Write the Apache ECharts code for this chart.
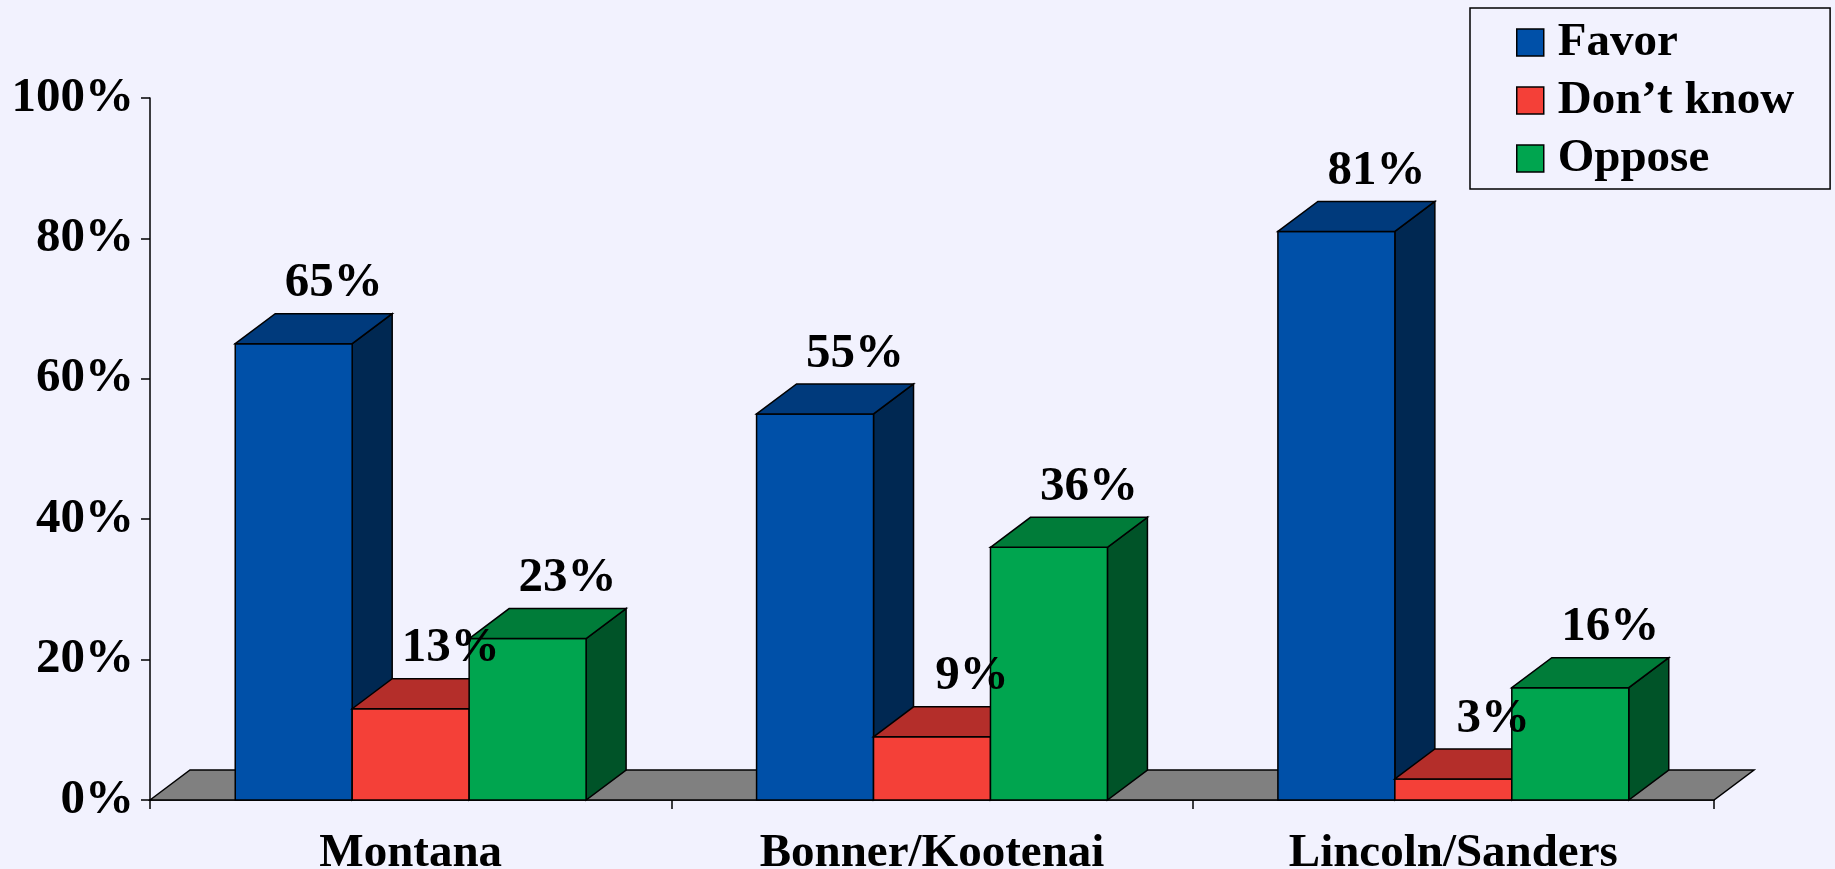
<!DOCTYPE html>
<html>
<head>
<meta charset="utf-8">
<script src="https://cdn.jsdelivr.net/npm/echarts@6/dist/echarts.min.js"></script>
<style>
  html, body { margin: 0; padding: 0; background: #F2F2FE; }
  #chart { width: 1835px; height: 869px; }
</style>
</head>
<body>
<div id="chart"></div>
<script>
// ---- data ----
const categories = ['Montana', 'Bonner/Kootenai', 'Lincoln/Sanders'];
const seriesNames = ['Favor', 'Don\u2019t know', 'Oppose'];
const favor = [65, 55, 81];
const dontKnow = [13, 9, 3];
const oppose = [23, 36, 16];
const yMax = 100;
const yInterval = 20;

// ---- style ----
const FONT = '"Liberation Serif", "Times New Roman", serif';
const DX = 40, DY = 30;          // 3D depth offset
const GROUP = 0.673;             // share of category width used by the 3 bars
const faces = [
  { front: '#0050A8', top: '#003A7C', side: '#002852' },
  { front: '#F44038', top: '#B42E2A', side: '#7A1E1C' },
  { front: '#00A54F', top: '#007C39', side: '#005328' }
];
const valueSets = [favor, dontKnow, oppose];

function barGeom(api, idx, v, k) {
  const base = api.coord([idx, 0]);
  const top = api.coord([idx, v]);
  const catW = api.size([1, 0])[0];
  const bw = catW * GROUP / 3;
  const x0 = base[0] - 1.5 * bw + k * bw;
  return { x0: x0, x1: x0 + bw, bw: bw, yb: base[1], yt: top[1] };
}

function makeBarRender(k) {
  const f = faces[k];
  return function (params, api) {
    const g = barGeom(api, api.value(0), api.value(1), k);
    const st = { stroke: '#000', lineWidth: 1.5 };
    return {
      type: 'group',
      children: [
        { type: 'polygon', shape: { points: [[g.x1, g.yt], [g.x1 + DX, g.yt - DY], [g.x1 + DX, g.yb - DY], [g.x1, g.yb]] },
          style: Object.assign({ fill: f.side }, st) },
        { type: 'rect', shape: { x: g.x0, y: g.yt, width: g.bw, height: g.yb - g.yt },
          style: Object.assign({ fill: f.front }, st) },
        { type: 'polygon', shape: { points: [[g.x0, g.yt], [g.x0 + DX, g.yt - DY], [g.x1 + DX, g.yt - DY], [g.x1, g.yt]] },
          style: Object.assign({ fill: f.top }, st) }
      ]
    };
  };
}

const barSeries = valueSets.map(function (vals, k) {
  return {
    name: seriesNames[k],
    type: 'custom',
    silent: true,
    z: 3,
    itemStyle: { color: faces[k].front },
    encode: { x: 0, y: 1 },
    data: vals.map(function (v, i) { return [i, v]; }),
    renderItem: makeBarRender(k)
  };
});

const labelData = [];
valueSets.forEach(function (vals, k) {
  vals.forEach(function (v, i) { labelData.push([i, v, k]); });
});

const labelSeries = {
  name: 'labels',
  type: 'custom',
  silent: true,
  z: 10,
  encode: { x: 0, y: 1 },
  data: labelData,
  renderItem: function (params, api) {
    const k = api.value(2);
    const v = api.value(1);
    const g = barGeom(api, api.value(0), v, k);
    return {
      type: 'text',
      style: {
        x: g.x0 + g.bw / 2 + DX,
        y: g.yt - 60,
        text: v + '%',
        fill: '#000',
        font: 'bold 49px ' + FONT,
        textAlign: 'center',
        textVerticalAlign: 'middle'
      }
    };
  }
};

const floorSeries = {
  name: 'floor',
  type: 'custom',
  silent: true,
  z: 1,
  data: [[0, 0]],
  renderItem: function (params, api) {
    const cs = params.coordSys;
    const yb = cs.y + cs.height;
    return {
      type: 'polygon',
      shape: { points: [[cs.x, yb], [cs.x + DX, yb - DY], [cs.x + cs.width + DX, yb - DY], [cs.x + cs.width, yb]] },
      style: { fill: '#808080', stroke: '#000', lineWidth: 1.5 }
    };
  }
};

const chart = echarts.init(document.getElementById('chart'));
chart.setOption({
  backgroundColor: '#F2F2FE',
  animation: false,
  grid: { left: 150, right: 121, top: 98, bottom: 69, containLabel: false, outerBoundsMode: 'none' },
  legend: {
    data: seriesNames.map(function (n) { return { name: n, icon: 'rect' }; }),
    orient: 'vertical',
    left: 1470,
    top: 8,
    padding: [11, 36, 7, 46],
    itemWidth: 27,
    itemHeight: 27,
    itemGap: 11,
    borderColor: '#000',
    borderWidth: 1.5,
    selectedMode: false,
    itemStyle: { borderColor: '#000', borderWidth: 1.5 },
    textStyle: { fontFamily: FONT, fontWeight: 'bold', fontSize: 47, color: '#000', lineHeight: 47, padding: [0, 0, 0, 9] }
  },
  xAxis: {
    type: 'category',
    data: categories,
    axisLine: { show: true, lineStyle: { color: '#000', width: 1.5 } },
    axisTick: { show: true, length: 9, lineStyle: { color: '#000', width: 1.5 } },
    axisLabel: { fontFamily: FONT, fontWeight: 'bold', fontSize: 47, color: '#000', margin: 30 },
    splitLine: { show: false }
  },
  yAxis: {
    type: 'value',
    min: 0,
    max: yMax,
    interval: yInterval,
    axisLine: { show: true, lineStyle: { color: '#000', width: 1.5 } },
    axisTick: { show: true, length: 9, lineStyle: { color: '#000', width: 1.5 } },
    axisLabel: { formatter: '{value}%', fontFamily: FONT, fontWeight: 'bold', fontSize: 49, color: '#000', margin: 16 },
    splitLine: { show: false }
  },
  series: [floorSeries].concat(barSeries).concat([labelSeries])
});
</script>
</body>
</html>
